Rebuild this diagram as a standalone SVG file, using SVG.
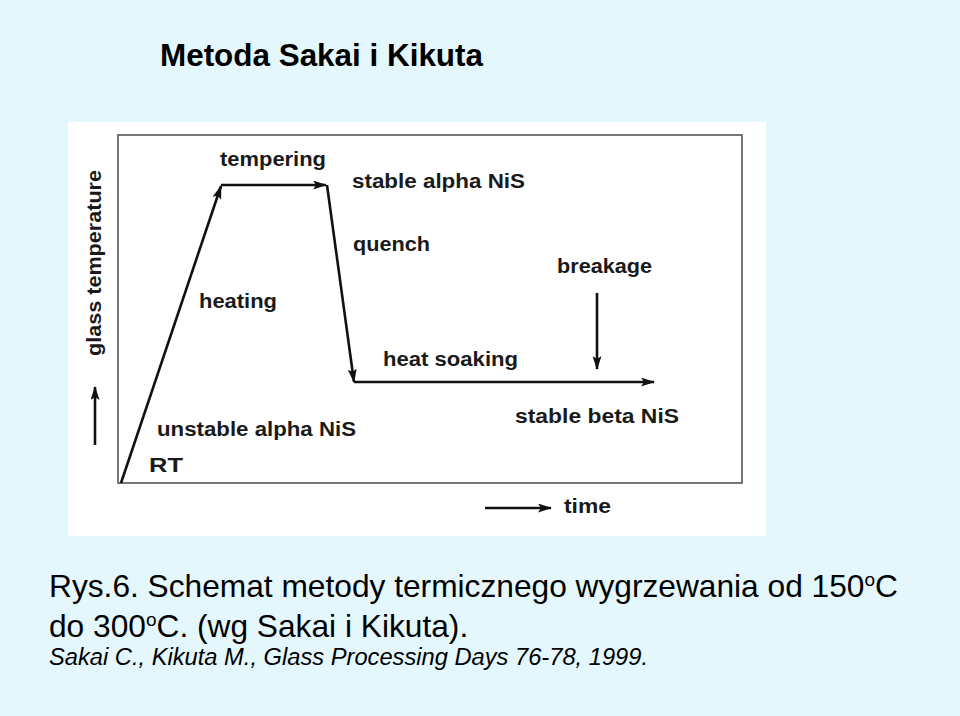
<svg xmlns="http://www.w3.org/2000/svg" width="960" height="716" viewBox="0 0 960 716">
<defs>
<marker id="ah" viewBox="0 0 14 9" refX="13" refY="4.5" markerWidth="14" markerHeight="9" markerUnits="userSpaceOnUse" orient="auto">
<path d="M0,0 L14,4.5 L0,9 L3,4.5 Z" fill="#111"/>
</marker>
<style>
.lbl{font-family:"Liberation Sans",Arial,sans-serif;font-weight:bold;font-size:19.5px;fill:#1a1a1a}
.ln{stroke:#111;stroke-width:2.6;fill:none}
.cap{font-family:"Liberation Sans",Arial,sans-serif;fill:#000}
</style>
</defs>
<rect width="960" height="716" fill="#e4f7fc"/>
<text id="title" class="cap" x="160" y="66" font-size="30.5" font-weight="bold" textLength="323" lengthAdjust="spacingAndGlyphs">Metoda Sakai i Kikuta</text>
<rect x="68" y="122" width="698" height="414" fill="#ffffff"/>
<rect x="118" y="135" width="624" height="348" fill="none" stroke="#555" stroke-width="1.6"/>
<g id="connectors">
<line class="ln" x1="121" y1="483" x2="221" y2="186" marker-end="url(#ah)"/>
<line class="ln" x1="221" y1="185" x2="326" y2="185" marker-end="url(#ah)"/>
<line class="ln" x1="327" y1="185" x2="354" y2="382" marker-end="url(#ah)"/>
<line class="ln" x1="354" y1="382" x2="654" y2="382" marker-end="url(#ah)"/>
<line class="ln" x1="597" y1="293" x2="597" y2="369" marker-end="url(#ah)"/>
<line class="ln" x1="485" y1="508" x2="551" y2="508" marker-end="url(#ah)"/>
<line class="ln" x1="95" y1="445" x2="95" y2="387" marker-end="url(#ah)"/>
</g>
<g id="n-axis-y"><text class="lbl" transform="translate(101,356) rotate(-90)" font-size="17" textLength="186" lengthAdjust="spacingAndGlyphs">glass temperature</text></g>
<g id="n-tempering"><text class="lbl" x="220" y="166" textLength="106" lengthAdjust="spacingAndGlyphs">tempering</text></g>
<g id="n-stable-alpha"><text class="lbl" x="352" y="188" textLength="173" lengthAdjust="spacingAndGlyphs">stable alpha NiS</text></g>
<g id="n-quench"><text class="lbl" x="353" y="251" textLength="77" lengthAdjust="spacingAndGlyphs">quench</text></g>
<g id="n-heating"><text class="lbl" x="199" y="308" textLength="78" lengthAdjust="spacingAndGlyphs">heating</text></g>
<g id="n-breakage"><text class="lbl" x="557" y="273" textLength="95" lengthAdjust="spacingAndGlyphs">breakage</text></g>
<g id="n-heat-soaking"><text class="lbl" x="383" y="366" textLength="135" lengthAdjust="spacingAndGlyphs">heat soaking</text></g>
<g id="n-stable-beta"><text class="lbl" x="515" y="423" textLength="164" lengthAdjust="spacingAndGlyphs">stable beta NiS</text></g>
<g id="n-unstable-alpha"><text class="lbl" x="157" y="436" textLength="199" lengthAdjust="spacingAndGlyphs">unstable alpha NiS</text></g>
<g id="n-rt"><text class="lbl" x="149" y="472" font-size="25" font-weight="normal" textLength="34" lengthAdjust="spacingAndGlyphs">RT</text></g>
<g id="n-time"><text class="lbl" x="564" y="513" textLength="47" lengthAdjust="spacingAndGlyphs">time</text></g>
<g id="caption">
<text class="cap" x="49" y="597" font-size="31.7">Rys.6. Schemat metody termicznego wygrzewania od 150<tspan font-size="19" dy="-11">o</tspan><tspan dy="11">C</tspan></text>
<text class="cap" x="49" y="637" font-size="31.7">do 300<tspan font-size="19" dy="-11">o</tspan><tspan dy="11">C. (wg Sakai i Kikuta).</tspan></text>
<text class="cap" x="49" y="665" font-size="23.7" font-style="italic">Sakai C., Kikuta M., Glass Processing Days 76-78, 1999.</text>
</g>
</svg>
